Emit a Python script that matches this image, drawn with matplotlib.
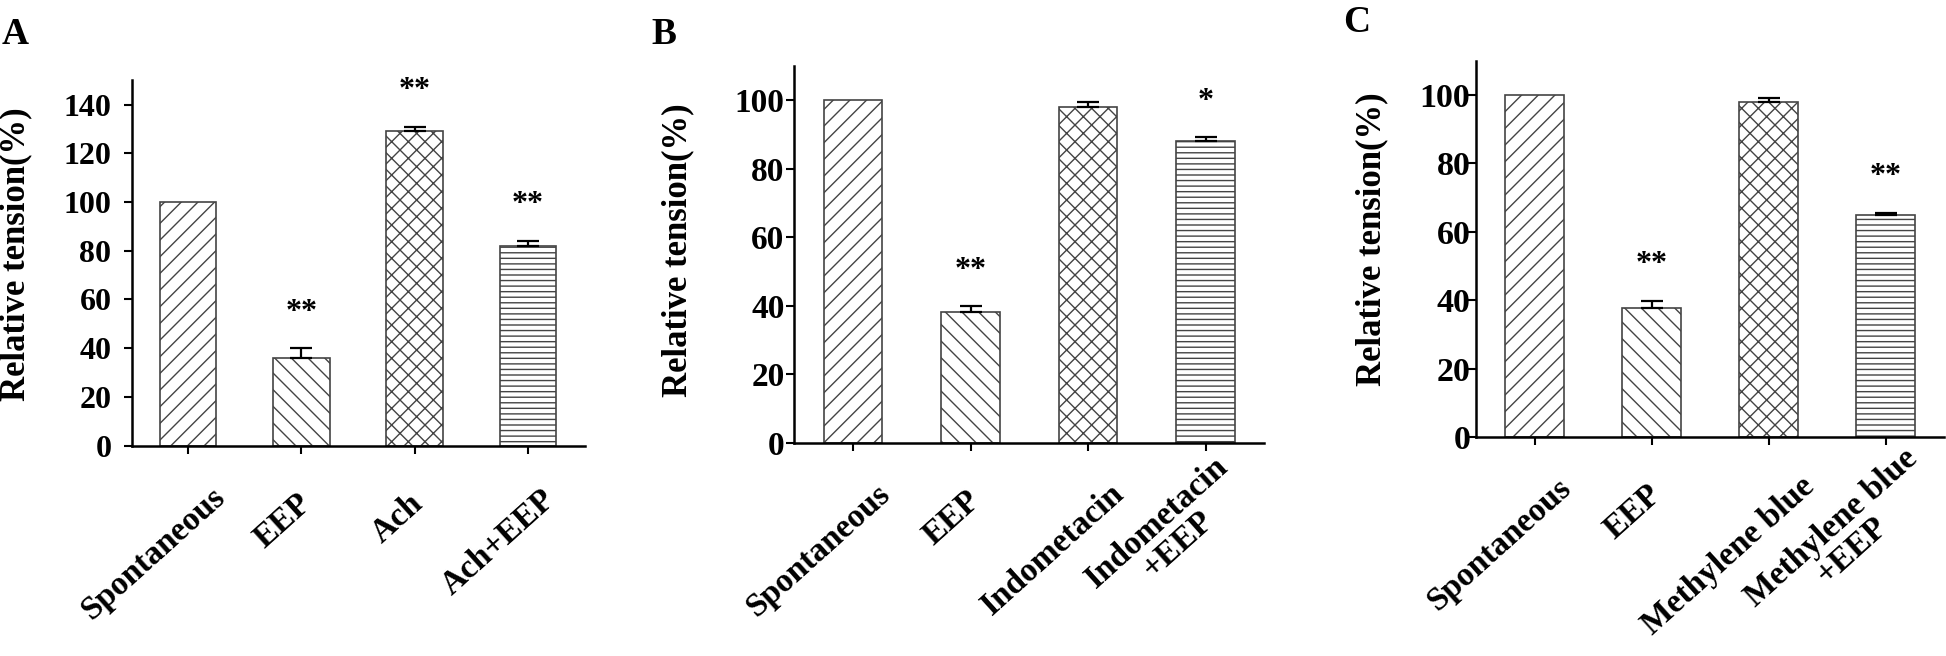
import matplotlib
matplotlib.use("Agg")
import matplotlib.pyplot as plt

plt.rcParams["font.family"] = ["Liberation Serif", "DejaVu Serif"]
plt.rcParams["font.weight"] = "bold"
plt.rcParams["hatch.linewidth"] = 1.0

# panel A
labels_a = ["Spontaneous", "EEP", "Ach", "Ach+EEP"]
values_a = [100, 36, 129, 82]
errors_a = [0, 4, 2, 2]
stars_a = ["", "**", "**", "**"]

# panel B
labels_b = ["Spontaneous", "EEP", "Indometacin", "Indometacin\n+EEP"]
values_b = [100, 38.3, 97.9, 88.0]
errors_b = [0, 1.5, 1.5, 1.2]
stars_b = ["", "**", "", "*"]

# panel C
labels_c = ["Spontaneous", "EEP", "Methylene blue", "Methylene blue\n+EEP"]
values_c = [100, 37.9, 97.9, 64.9]
errors_c = [0, 1.9, 1.1, 0.7]
stars_c = ["", "**", "", "**"]

hatches = ["//", "\\\\", "xx", "---"]


def draw_panel(ax, labels, values, errors, stars, ylim, yticks, fs, ypad):
    x = range(len(values))
    ax.bar(x, values, width=0.5, color="white", edgecolor="#444444",
           linewidth=1.2, hatch=hatches, zorder=2)
    for i in x:
        if errors[i] > 0:
            ax.errorbar(i, values[i], yerr=[[0], [errors[i]]], fmt="none",
                        ecolor="black", elinewidth=1.6, capsize=8,
                        capthick=1.6, zorder=3)
        if stars[i]:
            ax.annotate(stars[i], (i, values[i] + errors[i]),
                        xytext=(0, 26), textcoords="offset points",
                        ha="center", va="center", fontsize=23,
                        fontweight="bold")
    ax.set_xlim(-0.5, 3.5)
    ax.set_ylim(*ylim)
    ax.set_yticks(yticks)
    ax.set_xticks(list(x))
    ax.set_xticklabels([""] * len(labels))
    for lab in ax.get_yticklabels():
        lab.set_fontsize(fs)
        lab.set_fontweight("bold")
    ax.spines["top"].set_visible(False)
    ax.spines["right"].set_visible(False)
    ax.spines["left"].set_linewidth(1.8)
    ax.spines["bottom"].set_linewidth(1.8)
    ax.tick_params(axis="both", length=5.5, width=1.5, direction="out")
    ax.tick_params(axis="y", pad=ypad)
    ax.set_ylabel("Relative tension(%)", fontsize=25, fontweight="bold")

    # category names, slanted under each bar
    names = []
    for i, name in zip(x, labels):
        t = ax.annotate(name, (i, 0), xycoords=("data", "axes fraction"),
                        xytext=(0, -60), textcoords="offset pixels",
                        ha="center", va="center", rotation=42,
                        rotation_mode="anchor", fontsize=24,
                        fontweight="bold", multialignment="center",
                        linespacing=1.0, annotation_clip=False)
        names.append(t)
    return names


fig = plt.figure(figsize=(19.46, 6.56), dpi=100)

ax_a = fig.add_axes([0.0676, 0.3207, 0.2328, 0.5569])
names = draw_panel(ax_a, labels_a, values_a, errors_a, stars_a, (0, 150),
                   range(0, 141, 20), 23, 9)
ax_a.yaxis.set_label_coords(-0.218, 0.524)

ax_b = fig.add_axes([0.4082, 0.3252, 0.2415, 0.5741])
names += draw_panel(ax_b, labels_b, values_b, errors_b, stars_b, (0, 110),
                    range(0, 101, 20), 24, 1.6)
ax_b.yaxis.set_label_coords(-0.212, 0.512)

ax_c = fig.add_axes([0.7585, 0.3335, 0.2405, 0.5739])
names += draw_panel(ax_c, labels_c, values_c, errors_c, stars_c, (0, 110),
                    range(0, 101, 20), 24.5, -1.5)
ax_c.yaxis.set_label_coords(-0.188, 0.525)

# longer names sit further left and lower, as in the original figure
fig.canvas.draw()
renderer = fig.canvas.get_renderer()
for t in names:
    bb = t.get_window_extent(renderer)
    dx = -6 - 0.185 * bb.width
    dy = -(47 + 0.42 * bb.height)
    if "\n" in t.get_text():
        dy += 26
    t.xyann = (dx, dy)

fig.text(0.001, 1 - 17 / 656, "A", fontsize=27, fontweight="bold", va="top")
fig.text(0.335, 1 - 17 / 656, "B", fontsize=27, fontweight="bold", va="top")
fig.text(0.690, 1 - 5 / 656, "C", fontsize=27, fontweight="bold", va="top")

fig.savefig("out.png", dpi=100)
